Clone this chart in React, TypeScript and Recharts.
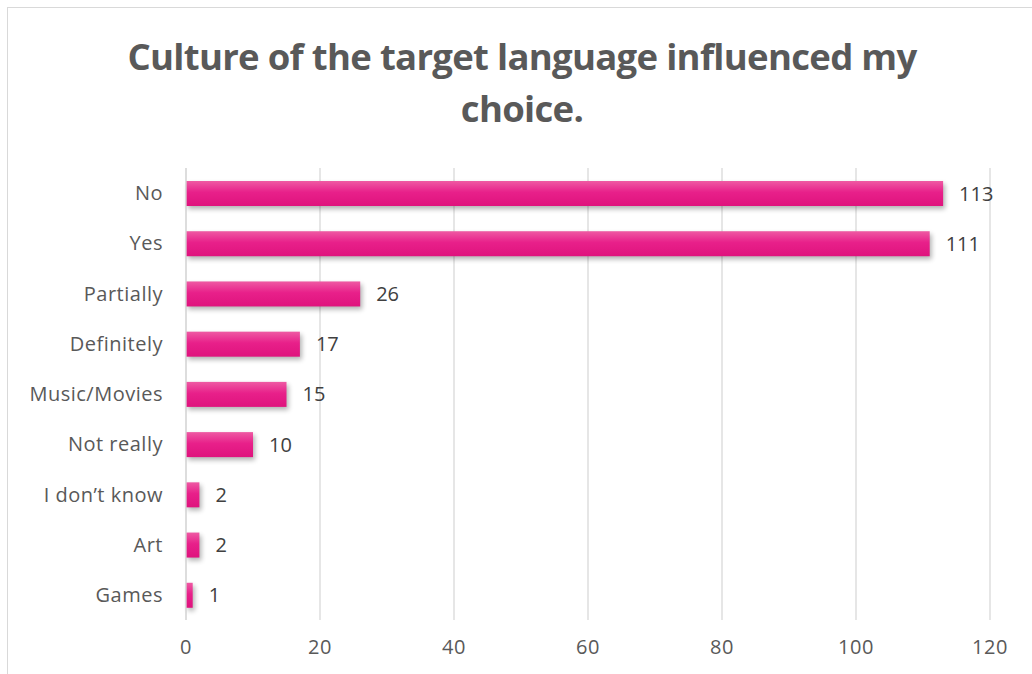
import React from 'react';
import { BarChart, Bar, XAxis, YAxis, CartesianGrid, LabelList } from 'recharts';

const categories = ['No', 'Yes', 'Partially', 'Definitely', 'Music/Movies', 'Not really', 'I don\u2019t know', 'Art', 'Games'];
const counts = [113, 111, 26, 17, 15, 10, 2, 2, 1];
const xTicks = [0, 20, 40, 60, 80, 100, 120];

const data = categories.map((label, i) => ({ label, count: counts[i] }));

const FONT = '"Open Sans", sans-serif';
const tickStyle = { fill: '#595959', fontSize: 20, fontFamily: FONT, letterSpacing: 0.5 };

// glossy pink bar with a soft shadow below-right, like the Excel preset
const ShadowBar = (props: any) => {
    const { x, y, width, height, index } = props;
    if (!(width > 0)) return null;
    const gid = `pinkGrad${index}`;
    const fid = `pinkBlur${index}`;
    return (
        <g>
            <defs>
                <linearGradient id={gid} x1="0" y1="0" x2="0" y2="1">
                    <stop offset="0%" stopColor="#ee5aa3" />
                    <stop offset="45%" stopColor="#e8208a" />
                    <stop offset="100%" stopColor="#df137d" />
                </linearGradient>
                <filter id={fid} x="-50%" y="-50%" width="200%" height="200%">
                    <feGaussianBlur stdDeviation="2.5" />
                </filter>
            </defs>
            <rect x={x + 2} y={y + 3} width={width} height={height} fill="#000" opacity={0.3} filter={`url(#${fid})`} />
            <rect x={x} y={y} width={width} height={height} fill={`url(#${gid})`} />
        </g>
    );
};

const App: React.FC = () => {
    return (
        <div style={{ position: 'absolute', left: 0, top: 0, width: 1032, height: 674, background: '#fff', fontFamily: FONT, overflow: 'hidden' }}>
            <BarChart
                width={1032}
                height={674}
                data={data}
                layout="vertical"
                margin={{ top: 168, right: 42, bottom: 24, left: 0 }}
            >
                <CartesianGrid horizontal={false} stroke="#d9d9d9" strokeWidth={1.3} />
                <XAxis
                    type="number"
                    domain={[0, 120]}
                    ticks={xTicks}
                    axisLine={false}
                    tickLine={false}
                    tickMargin={14}
                    tick={tickStyle}
                />
                <YAxis
                    type="category"
                    dataKey="label"
                    width={186}
                    axisLine={{ stroke: '#d9d9d9', strokeWidth: 1.3 }}
                    tickLine={false}
                    tickMargin={17}
                    interval={0}
                    tick={tickStyle}
                />
                <Bar dataKey="count" fill="#e8208a" barSize={25} shape={ShadowBar} isAnimationActive={false}>
                    <LabelList dataKey="count" position="right" offset={16} fill="#404040" fontSize={20} fontFamily={FONT} />
                </Bar>
            </BarChart>
            {/* chart frame, only top and left edges are visible in the crop */}
            <div style={{ position: 'absolute', left: 7, top: 7, width: 1040, height: 680, borderTop: '1px solid #d9d9d9', borderLeft: '1px solid #d9d9d9', pointerEvents: 'none' }} />
            <div style={{ position: 'absolute', left: 0, width: 1044, top: 30, textAlign: 'center', color: '#595959', fontWeight: 700, fontSize: 36.5, lineHeight: '52px', letterSpacing: -0.7 }}>
                Culture of the target language influenced my<br />choice.
            </div>
        </div>
    );
};

export default App;
